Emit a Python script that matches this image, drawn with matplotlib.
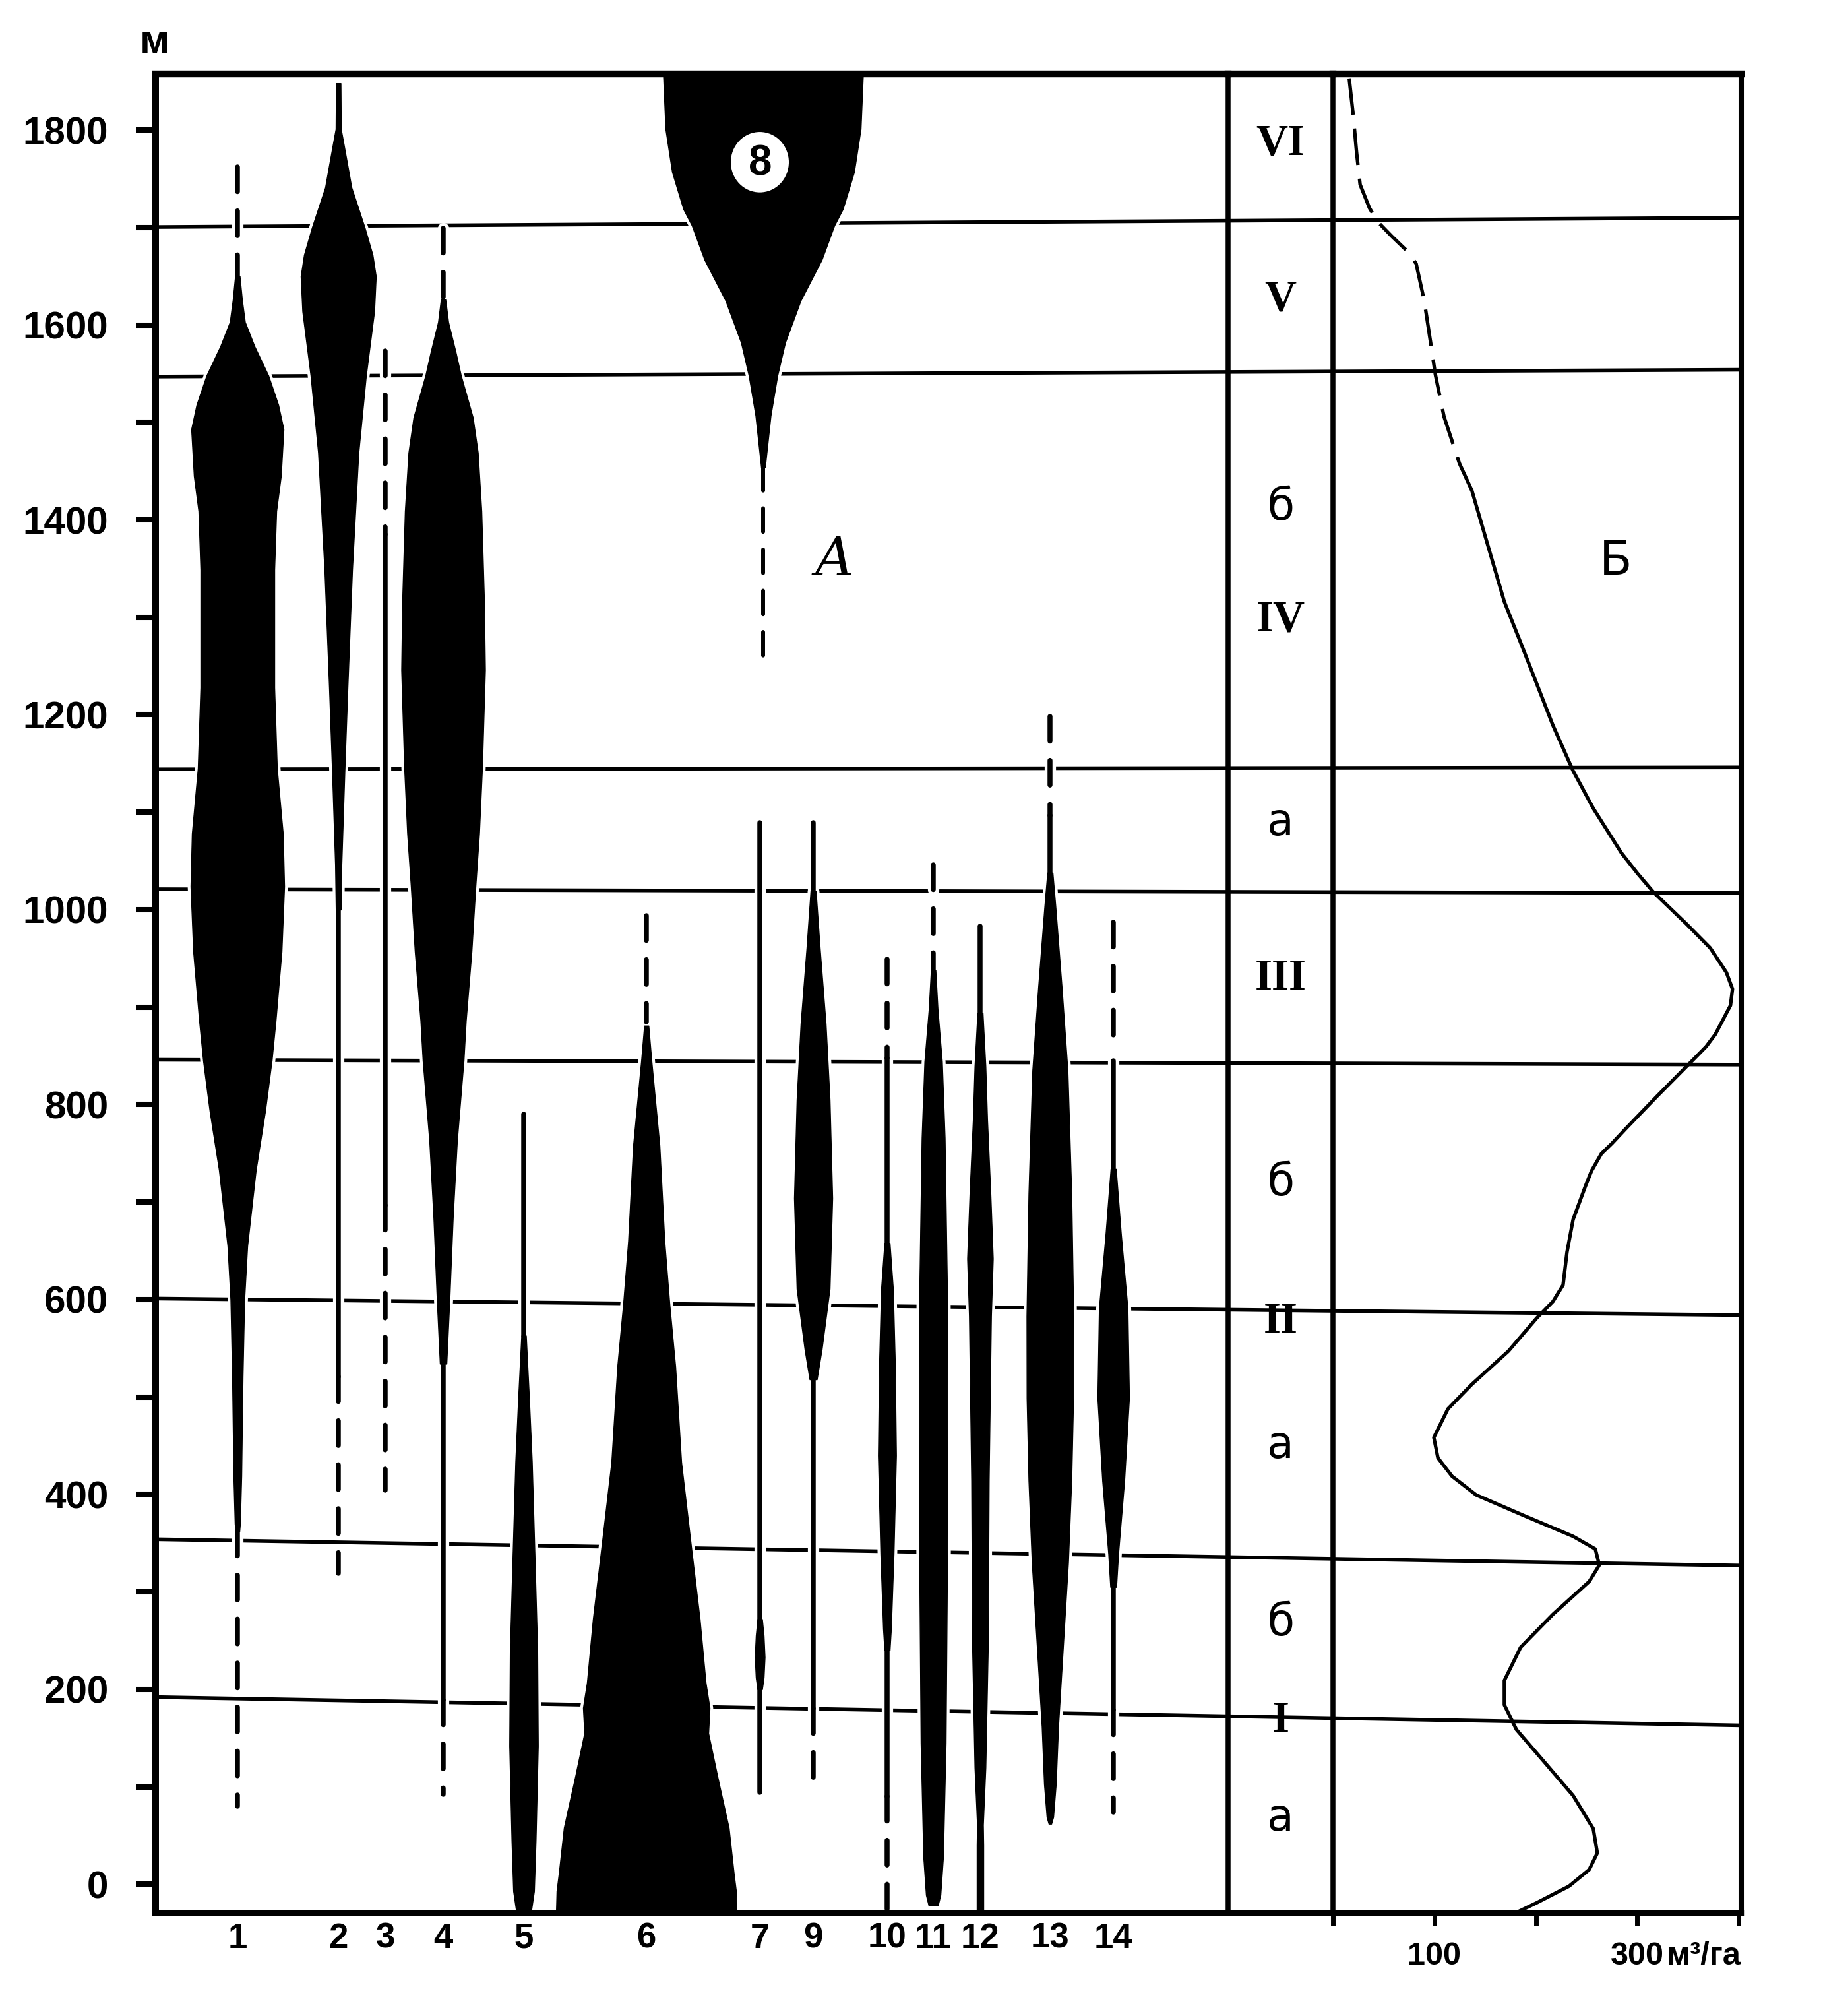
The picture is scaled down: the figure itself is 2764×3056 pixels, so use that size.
import numpy as np
import matplotlib
matplotlib.use("Agg")
import matplotlib.pyplot as plt
from matplotlib.patches import Ellipse
from matplotlib.transforms import blended_transform_factory

plt.rcParams['lines.scale_dashes'] = False

# ---------------------------------------------------------------- data
alt_ticks = list(range(0, 1900, 100))
alt_labels = [str(v) if v % 200 == 0 else '' for v in alt_ticks]

species_labels = ['1', '2', '3', '4', '5', '6', '7', '8', '9', '10', '11', '12', '13', '14']
species_x = [360, 513, 584, 672, 794, 980, 1152, 1157, 1233, 1345, 1415, 1486, 1592, 1688]

# profiles: altitude (m) and half-width of the black figure
sp1_alt = [1650, 1626, 1603, 1578, 1548, 1518, 1493, 1445, 1409, 1349, 1288, 1228, 1145, 1078,
           1024, 957, 886, 845, 793, 733, 655, 600, 521, 419, 370, 362]
sp1_hw = [3.5, 7, 11.5, 26, 47, 62, 70, 66, 59, 56, 56, 56, 60, 69, 71, 67, 58, 52, 42, 28,
          15, 10.5, 8, 6, 4, 3]
sp2_alt = [1848, 1801, 1784, 1741, 1700, 1672, 1650, 1614, 1548, 1469, 1349, 1228, 1145, 1046, 1000]
sp2_hw = [3.5, 4, 8.6, 20, 40, 52, 57, 54.5, 42, 30.6, 21, 14, 9.6, 4.8, 3.8]
sp4_alt = [1626, 1603, 1572, 1548, 1505, 1469, 1409, 1318, 1246, 1145, 1078, 1024, 957, 886,
           845, 763, 684, 600, 534]
sp4_hw = [3.5, 7.7, 19, 27, 45, 52.6, 58, 62, 63.5, 59, 54.5, 49, 43, 34.4, 31, 21, 14.7, 9.6, 5]
sp5_alt = [563, 498, 434, 337, 239, 142, 45, -7, -26, -32]
sp5_hw = [3.5, 8.3, 12.5, 16.7, 20.8, 21.7, 18.3, 15.8, 11.7, 9]
sp6_alt = [881, 845, 758, 660, 596, 531, 433, 346, 272, 207, 181, 155, 110, 58, 12, -7, -32]
sp6_hw = [3.3, 7.8, 20, 27.5, 35, 44, 53, 68, 81, 90, 96, 94, 108, 125, 132.5, 136, 137]
sp7_alt = [272, 255, 233, 212, 200]
sp7_hw = [3.5, 6, 7.5, 6, 3.5]
sp8_alt = [1870, 1857, 1801, 1757, 1719, 1702, 1667, 1625, 1582, 1548, 1507, 1454]
sp8_hw = [151.5, 151.5, 148, 138, 121, 108, 89, 57, 33.5, 21.7, 11.5, 3]
sp9_alt = [1019, 961, 883, 805, 704, 611, 549, 518]
sp9_hw = [4, 10, 19, 25, 29, 25, 13, 5.5]
sp10_alt = [658, 611, 534, 440, 339, 262, 240]
sp10_hw = [4, 9, 12, 13.7, 10, 6, 4]
sp11_alt = [938, 898, 844, 766, 611, 378, 145, 28, -11, -22]
sp11_hw = [3.5, 6.7, 13.3, 17.5, 21, 21.7, 19, 15, 11, 7]
sp12_alt = [894, 839, 785, 709, 642, 583, 414, 246, 120, 61, 40, -35]
sp12_hw = [4, 8.3, 10.8, 15.8, 19.5, 16.7, 13.3, 12, 8.3, 4.5, 5, 5]
sp13_alt = [1038, 1004, 919, 835, 709, 583, 499, 414, 330, 246, 162, 103, 69, 62]
sp13_hw = [4, 8.3, 18, 26.7, 32.5, 35.5, 35.3, 32.5, 27.5, 20, 12.5, 9, 5, 2]
sp14_alt = [734, 667, 591, 499, 414, 339, 305]
sp14_hw = [4, 11.7, 21.7, 24, 16.7, 7.5, 4.5]

# thin lines: (top altitude, bottom altitude)
solid_lines = {'2': [(1000, 521)], '3': [(1385, 697)], '4': [(534, 189)], '5': [(790, 563)],
               '7': [(1089, 94)], '9': [(1089, 180)], '10': [(848, 90)],
               '12': [(983, 894)], '13': [(1097, 1038)], '14': [(845, 179)]}
dashed_lines = {'1': [(1762, 1650), (362, 80)], '2': [(521, 319)], '3': [(1573, 1385), (697, 404)],
                '4': [(1699, 1626), (189, 92)], '6': [(994, 885)], '8': [(1454, 1254)],
                '9': [(180, 106)], '10': [(949, 848), (90, -30)], '11': [(1046, 938)],
                '13': [(1198, 1097)], '14': [(987, 865), (179, 74)]}

# belt boundaries (altitude at left and right end of the drawing)
bound_left = [1700.5, 1547, 1144, 1021, 846, 601, 354, 192]
bound_right = [1710, 1554, 1146, 1017, 841, 584, 327, 163]

zone_labels = ['VI', 'V', 'б', 'IV', 'а', 'III', 'б', 'II', 'а', 'б', 'I', 'а']
zone_label_alt = [1786, 1626, 1413, 1297, 1089, 929, 720, 577, 450, 268, 168, 68]

# timber volume (m3/ha) vs altitude
vol_dash_alt = [1853, 1815, 1777, 1744, 1720, 1706, 1691, 1677, 1663, 1625, 1573, 1549, 1506,
                1458, 1430]
vol_dash_val = [16, 20, 23.3, 26.8, 36, 44, 58, 72, 82, 90, 97.6, 101, 109.5, 124.7, 137]
vol_alt = [1430, 1364, 1316, 1269, 1221, 1189, 1142.5, 1104, 1058, 1037, 1017.6, 986, 960.8,
           935.6, 918.6, 901.7, 872, 859.5, 842.6, 809, 775, 760, 749.6, 732, 715.8, 682, 648.6,
           614.8, 598, 581, 547, 513, 487.8, 458.4, 437.5, 418.7, 399.4, 378, 357, 344, 327.5,
           310.6, 277, 243, 209, 184, 158.6, 124.8, 91, 57, 32, 15, -2, -19, -27]
vol_val = [137, 155.5, 169, 187, 205, 217, 236.8, 256.7, 284.6, 300.5, 316.4, 348, 372,
           388, 394, 392, 377, 368, 352, 320, 288.5, 275, 264.7, 255, 248.8, 236.8, 230.8,
           226.9, 217, 201, 173, 137, 113.4, 99.5, 103.5, 117.4, 141.3, 189, 236.8, 258.7, 262.7,
           252.7, 217, 185, 169, 169, 181, 209, 236.8, 256.7, 260.7, 252.7, 232.8, 201, 185]
vol_ticks = [0, 100, 200, 300, 400]
vol_tick_labels = ['', '100', '', '300', '']
vol_unit = 'м³/га'

profiles = {'1': (sp1_alt, sp1_hw), '2': (sp2_alt, sp2_hw), '4': (sp4_alt, sp4_hw),
            '5': (sp5_alt, sp5_hw), '6': (sp6_alt, sp6_hw), '7': (sp7_alt, sp7_hw),
            '8': (sp8_alt, sp8_hw), '9': (sp9_alt, sp9_hw), '10': (sp10_alt, sp10_hw),
            '11': (sp11_alt, sp11_hw), '12': (sp12_alt, sp12_hw), '13': (sp13_alt, sp13_hw),
            '14': (sp14_alt, sp14_hw)}

# ---------------------------------------------------------------- layout
W, H, DPI = 2764, 3056, 100
TOP, BOT = 112, 2900
XA, XZ, XB, XR = 236, 1862, 2021, 2640
YLIM = (-29.6, 1857.6)
VOL_VIEW = (0, 402.6)
SANS = ['Liberation Sans', 'DejaVu Sans']

fig = plt.figure(figsize=(W / DPI, H / DPI), dpi=DPI)
fig.patch.set_facecolor('white')


def rect(x0, x1):
    return [x0 / W, 1 - BOT / H, (x1 - x0) / W, (BOT - TOP) / H]


bg = fig.add_axes(rect(XA, XR), zorder=0)
bg.set_xlim(0, 1)
bg.set_ylim(*YLIM)
bg.axis('off')
for l, r in zip(bound_left, bound_right):
    bg.plot([0, 1], [l, r], color='black', lw=4.0, solid_capstyle='butt')

axA = fig.add_axes(rect(XA, XZ), zorder=1)
axZ = fig.add_axes(rect(XZ, XB), zorder=1)
axB = fig.add_axes(rect(XB, XR), zorder=1)
for ax in (axA, axZ, axB):
    ax.set_ylim(*YLIM)
    ax.patch.set_alpha(0)
    ax.spines['top'].set_linewidth(7.5)
    ax.spines['bottom'].set_linewidth(6.0)
axA.set_xlim(XA, XZ)
axZ.set_xlim(0, 1)
axB.set_xlim(*VOL_VIEW)
axA.spines['left'].set_linewidth(7.2)
axA.spines['right'].set_linewidth(5.4)
axZ.spines['left'].set_visible(False)
axZ.spines['right'].set_linewidth(5.4)
axB.spines['left'].set_visible(False)
axB.spines['right'].set_linewidth(5.8)

HALO = 7.0
LW = 5.4


def draw_profile(x, alt, hw):
    alt = np.asarray(alt, float)
    hw = np.asarray(hw, float)
    axA.fill_betweenx(alt, x - hw, x + hw, facecolor='white', edgecolor='white', lw=HALO, zorder=2)
    axA.fill_betweenx(alt, x - hw, x + hw, facecolor='black', edgecolor='black', lw=1.0,
                      joinstyle='round', zorder=3)


def draw_line(x, top, bot, dashed, lw=LW, dash=(27, 21)):
    ls = (0, dash) if dashed else '-'
    kw = dict(solid_capstyle='round', dash_capstyle='round')
    axA.plot([x, x], [top, bot], color='white', lw=lw + HALO, linestyle=ls, zorder=2, **kw)
    axA.plot([x, x], [top, bot], color='black', lw=lw, linestyle=ls, zorder=3, **kw)


for name, x in zip(species_labels, species_x):
    if name in profiles:
        draw_profile(x, *profiles[name])
    for top, bot in solid_lines.get(name, []):
        draw_line(x, top, bot, False)
    for top, bot in dashed_lines.get(name, []):
        if name == '8':
            draw_line(x, top, bot, True, lw=4.3, dash=(25.7, 19.3))
        else:
            draw_line(x, top, bot, True)

# circled label of species 8
x8 = species_x[species_labels.index('8')]
axA.add_patch(Ellipse((x8 - 5, 1767), 88, 62, facecolor='white', edgecolor='none', zorder=4))
axA.text(x8 - 4, 1765, '8', ha='center', va='center', fontsize=46, fontweight='bold',
         family=SANS, zorder=5)

axA.text(1265, 1358, 'А', ha='center', va='center', fontsize=58, family='DejaVu Serif',
         style='italic')

# axes ticks
axA.set_yticks(alt_ticks)
axA.set_yticklabels(alt_labels)
axA.tick_params(axis='y', direction='out', length=21.6, width=5.8, pad=30, labelsize=42)
for lab in axA.get_yticklabels():
    lab.set_family(SANS)
    lab.set_fontweight('bold')
bottom_x = [x for n, x in zip(species_labels, species_x) if n != '8']
bottom_lab = [n for n in species_labels if n != '8']
axA.set_xticks(bottom_x)
axA.set_xticklabels(bottom_lab)
axA.tick_params(axis='x', length=0, pad=10, labelsize=38)
for lab in axA.get_xticklabels():
    lab.set_family(SANS)
    lab.set_fontweight('bold')

fig.text(234 / W, 1 - 65 / H, 'м', ha='center', va='center', fontsize=44, fontweight='bold',
         family=SANS)

# zone column
axZ.set_xticks([])
axZ.set_yticks([])
for lab, a in zip(zone_labels, zone_label_alt):
    if lab in ('а', 'б'):
        axZ.text(0.5, a, lab, ha='center', va='center', fontsize=48, family='DejaVu Sans')
    else:
        axZ.text(0.5, a, lab, ha='center', va='center', fontsize=48, fontweight='bold',
                 family=['Liberation Serif', 'DejaVu Serif'])

# volume panel
axB.set_yticks([])
axB.plot(vol_dash_val, vol_dash_alt, color='black', lw=3.8, linestyle=(0, (40, 15)),
         dash_capstyle='butt', zorder=3)
axB.plot(vol_val, vol_alt, color='black', lw=3.8, zorder=3, solid_joinstyle='round')
axB.set_xticks(vol_ticks)
axB.set_xticklabels(vol_tick_labels)
axB.tick_params(axis='x', direction='out', length=14, width=5, pad=17, labelsize=35)
for lab in axB.get_xticklabels():
    lab.set_family(SANS)
    lab.set_fontweight('bold')
trans = blended_transform_factory(axB.transData, axB.transAxes)
axB.text(329, -0.0235, vol_unit, transform=trans, ha='left', va='center', fontsize=35,
         fontweight='bold', family=SANS)
axB.text(279, 1357, 'Б', ha='center', va='center', fontsize=52, family='DejaVu Sans')

fig.savefig('out.png', dpi=DPI, facecolor='white')
